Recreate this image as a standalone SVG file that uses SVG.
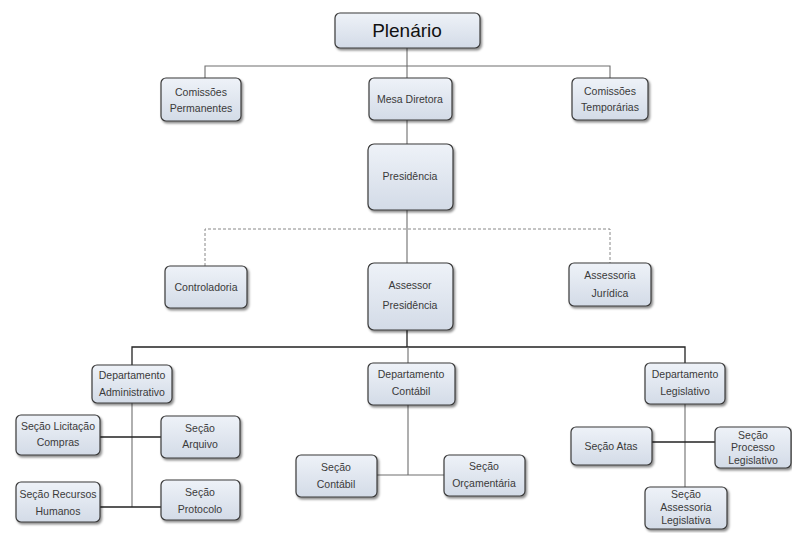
<svg xmlns="http://www.w3.org/2000/svg" width="792" height="533" viewBox="0 0 792 533">
<defs>
<linearGradient id="g" x1="0" y1="0" x2="0" y2="1">
<stop offset="0" stop-color="#eef2f8"/>
<stop offset="1" stop-color="#d3dbe7"/>
</linearGradient>
<filter id="sh" x="-10%" y="-10%" width="125%" height="130%">
<feDropShadow dx="1.5" dy="2" stdDeviation="1.2" flood-color="#000" flood-opacity="0.45"/>
</filter>
<style>
.box{fill:url(#g);stroke:#3a3a3a;stroke-width:1.2;filter:url(#sh)}
text{font-family:"Liberation Sans Narrow","Liberation Sans",Arial,sans-serif;font-size:10.5px;fill:#3a3a3a;text-anchor:middle}
.big{font-size:19px;fill:#111}
.c{fill:none;stroke:#6e6e6e;stroke-width:1.1}
.d{fill:none;stroke:#222;stroke-width:1.3}
.ds{fill:none;stroke:#888;stroke-width:1;stroke-dasharray:3 2}
</style>
</defs>
<rect width="792" height="533" fill="#fff"/>
<g id="connectors">
<path class="c" d="M407 48V144M205 78V66H610V78"/>
<path class="ds" d="M205 266V229H610V263"/>
<path class="c" d="M407 210V263"/>
<path class="d" d="M407 330V347M132 365V347H685V363"/>
<path class="c" d="M408 347V363M408 405V475M377 475H444"/>
<path class="c" d="M132 403V507"/>
<path class="d" d="M100 437H161M100 507H161"/>
<path class="c" d="M685 404V487"/>
<path class="d" d="M652 442H715"/>
</g>
<g id="plenario"><rect class="box" x="335" y="13" width="145" height="35" rx="5"/><text class="big" x="407" y="37">Plenário</text></g>
<g id="comissoes-permanentes"><rect class="box" x="161" y="78" width="80" height="43" rx="5"/><text x="201" y="96">Comissões</text><text x="201" y="112">Permanentes</text></g>
<g id="mesa-diretora"><rect class="box" x="369" y="78" width="83" height="42" rx="5"/><text x="410" y="103">Mesa Diretora</text></g>
<g id="comissoes-temporarias"><rect class="box" x="572" y="78" width="76" height="42" rx="5"/><text x="610" y="95">Comissões</text><text x="610" y="111">Temporárias</text></g>
<g id="presidencia"><rect class="box" x="368" y="144" width="85" height="66" rx="6"/><text x="410" y="180">Presidência</text></g>
<g id="controladoria"><rect class="box" x="165" y="266" width="82" height="42" rx="5"/><text x="206" y="291">Controladoria</text></g>
<g id="assessor-presidencia"><rect class="box" x="368" y="263" width="85" height="67" rx="6"/><text x="410" y="289">Assessor</text><text x="410" y="309">Presidência</text></g>
<g id="assessoria-juridica"><rect class="box" x="569" y="263" width="82" height="43" rx="5"/><text x="610" y="279">Assessoria</text><text x="610" y="297">Jurídica</text></g>
<g id="dep-administrativo"><rect class="box" x="92" y="365" width="80" height="38" rx="5"/><text x="132" y="379">Departamento</text><text x="132" y="396">Administrativo</text></g>
<g id="dep-contabil"><rect class="box" x="368" y="363" width="87" height="42" rx="5"/><text x="411" y="378">Departamento</text><text x="411" y="395">Contábil</text></g>
<g id="dep-legislativo"><rect class="box" x="645" y="363" width="80" height="41" rx="5"/><text x="685" y="378">Departamento</text><text x="685" y="395">Legislativo</text></g>
<g id="secao-licitacao"><rect class="box" x="16" y="415" width="84" height="40" rx="5"/><text x="58" y="430">Seção Licitação</text><text x="58" y="446">Compras</text></g>
<g id="secao-arquivo"><rect class="box" x="161" y="416" width="79" height="42" rx="5"/><text x="200" y="432">Seção</text><text x="200" y="448">Arquivo</text></g>
<g id="secao-rh"><rect class="box" x="16" y="482" width="84" height="40" rx="5"/><text x="58" y="498">Seção Recursos</text><text x="58" y="515">Humanos</text></g>
<g id="secao-protocolo"><rect class="box" x="161" y="480" width="79" height="40" rx="5"/><text x="200" y="496">Seção</text><text x="200" y="513">Protocolo</text></g>
<g id="secao-contabil"><rect class="box" x="296" y="455" width="81" height="42" rx="5"/><text x="336" y="471">Seção</text><text x="336" y="488">Contábil</text></g>
<g id="secao-orcamentaria"><rect class="box" x="444" y="455" width="81" height="41" rx="5"/><text x="484" y="470">Seção</text><text x="484" y="487">Orçamentária</text></g>
<g id="secao-atas"><rect class="box" x="571" y="427" width="81" height="38" rx="5"/><text x="611" y="450">Seção Atas</text></g>
<g id="secao-processo"><rect class="box" x="715" y="427" width="76" height="41" rx="5"/><text x="753" y="439">Seção</text><text x="753" y="451">Processo</text><text x="753" y="464">Legislativo</text></g>
<g id="secao-assessoria-leg"><rect class="box" x="645" y="487" width="82" height="42" rx="5"/><text x="686" y="498">Seção</text><text x="686" y="511">Assessoria</text><text x="686" y="524">Legislativa</text></g>
</svg>
